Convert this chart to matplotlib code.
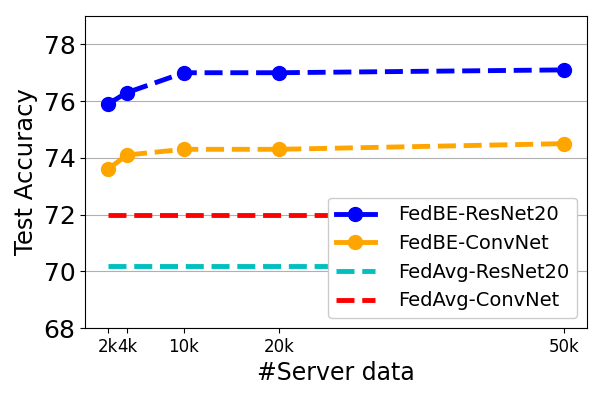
import matplotlib
matplotlib.use("Agg")
import matplotlib.pyplot as plt

server_data = [2, 4, 10, 20, 50]
tick_labels = ["2k", "4k", "10k", "20k", "50k"]
fedbe_resnet20 = [75.9, 76.3, 77.0, 77.0, 77.1]
fedbe_convnet = [73.6, 74.1, 74.3, 74.3, 74.5]
fedavg_resnet20 = [70.2, 70.2, 70.2, 70.2, 70.2]
fedavg_convnet = [72.0, 72.0, 72.0, 72.0, 72.0]

fig, ax = plt.subplots(figsize=(6, 4), dpi=100)
fig.subplots_adjust(left=0.142, right=0.978, top=0.96, bottom=0.18)

ax.plot(server_data, fedbe_resnet20, "--", color="blue", lw=3.5, marker="o", markersize=10, label="FedBE-ResNet20")
ax.plot(server_data, fedbe_convnet, "--", color="orange", lw=3.5, marker="o", markersize=10, label="FedBE-ConvNet")
ax.plot(server_data, fedavg_resnet20, "--", color="c", lw=3.5, label="FedAvg-ResNet20")
ax.plot(server_data, fedavg_convnet, "--", color="red", lw=3.5, label="FedAvg-ConvNet")

ax.set_ylim(68, 79)
ax.set_yticks([68, 70, 72, 74, 76, 78])
ax.set_xticks(server_data)
ax.set_xticklabels(tick_labels, fontsize=12)
ax.tick_params(axis="y", labelsize=18)
ax.yaxis.grid(True, color="#b0b0b0")
ax.set_axisbelow(True)
ax.set_xlabel("#Server data", fontsize=17)
ax.set_ylabel("Test Accuracy", fontsize=17.5)
leg = ax.legend(loc="lower right", fontsize=14, framealpha=1.0, handletextpad=1.2)
for ln in leg.get_lines()[:2]:
    ln.set_linestyle("-")

fig.savefig("out.png", dpi=100)
